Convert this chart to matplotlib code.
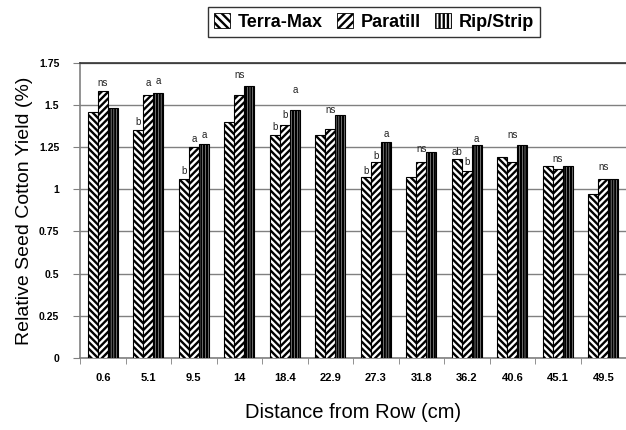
import matplotlib
matplotlib.use("Agg")
import matplotlib.pyplot as plt
import numpy as np
from matplotlib.patches import Patch

categories = ["0.6", "5.1", "9.5", "14", "18.4", "22.9", "27.3", "31.8", "36.2", "40.6", "45.1", "49.5"]
series_names = ["Terra-Max", "Paratill", "Rip/Strip"]
terra_max = [1.46, 1.35, 1.06, 1.40, 1.32, 1.32, 1.07, 1.07, 1.18, 1.19, 1.14, 0.97]
paratill = [1.58, 1.56, 1.25, 1.56, 1.38, 1.36, 1.16, 1.16, 1.11, 1.16, 1.12, 1.06]
rip_strip = [1.48, 1.57, 1.27, 1.61, 1.47, 1.44, 1.28, 1.22, 1.26, 1.26, 1.14, 1.06]

# significance letters: (group index, series index or None for group centre, text, y)
sig_groups = [0, 1, 1, 1, 2, 2, 2, 3, 4, 4, 4, 5, 6, 6, 6, 7, 8, 8, 8, 9, 10, 11]
sig_series = [1, 0, 1, 2, 0, 1, 2, None, 0, 1, 2, None, 0, 1, 2, None, 0, 1, 2, None, None, None]
sig_text = ["ns", "b", "a", "a", "b", "a", "a", "ns", "b", "b", "a", "ns", "b", "b", "a", "ns", "ab", "b", "a", "ns", "ns", "ns"]
sig_y = [1.63, 1.40, 1.63, 1.64, 1.11, 1.30, 1.32, 1.68, 1.37, 1.44, 1.59, 1.47, 1.11, 1.20, 1.33, 1.24, 1.22, 1.16, 1.30, 1.32, 1.18, 1.13]

plt.rcParams['font.family'] = ['Liberation Sans', 'DejaVu Sans']
plt.rcParams['hatch.linewidth'] = 1.7

fig = plt.figure(figsize=(6.26, 4.30), dpi=100)
ax = fig.add_axes([0.128, 0.1674, 0.872, 0.6868])

x = np.arange(len(categories))
w = 0.22
hatches = ['\\' * 5, '/' * 5, '|' * 6]
data = [terra_max, paratill, rip_strip]
for i, (vals, h) in enumerate(zip(data, hatches)):
    ax.bar(x + (i - 1) * w, vals, width=w, facecolor='white', edgecolor='black',
           hatch=h, linewidth=0.8, zorder=3)

for g, s, t, yv in zip(sig_groups, sig_series, sig_text, sig_y):
    xo = x[g] + ((s - 1) * w if s is not None else 0)
    ax.text(xo, yv, t, ha='center', va='center', fontsize=7, color='#222222', zorder=4)

ax.set_xlim(-0.5, len(categories) - 0.5)
ax.set_ylim(0, 1.75)
ax.set_yticks([0, 0.25, 0.5, 0.75, 1, 1.25, 1.5, 1.75])
ax.set_yticklabels(["0", "0.25", "0.5", "0.75", "1", "1.25", "1.5", "1.75"],
                   fontsize=7.5, fontweight='bold')
ax.yaxis.grid(True, color='#808080', linewidth=1.0, zorder=0)
ax.set_axisbelow(True)

ax.set_xticks(x)
ax.set_xticklabels(categories, fontsize=8, fontweight='bold')
ax.tick_params(axis='x', length=0, pad=11)
ax.set_xticks(np.arange(len(categories) + 1) - 0.5, minor=True)
ax.tick_params(axis='x', which='minor', length=4, color='#808080', direction='out')
ax.tick_params(axis='y', length=5, color='#808080', direction='out', pad=10)
for lab in ax.get_yticklabels():
    lab.set_horizontalalignment('right')

ax.spines['right'].set_visible(False)
ax.spines['top'].set_color('#333333')
ax.spines['left'].set_color('#808080')
ax.spines['bottom'].set_color('#808080')
ax.spines['left'].set_linewidth(1.2)
ax.spines['bottom'].set_linewidth(1.2)
ax.spines['top'].set_linewidth(1.2)

ax.set_ylabel("Relative Seed Cotton Yield (%)", fontsize=14, labelpad=4)
ax.set_xlabel("Distance from Row (cm)", fontsize=14.5, labelpad=14)

handles = [Patch(facecolor='white', edgecolor='black', hatch=h, linewidth=0.6) for h in ['\\' * 4, '/' * 4, '|' * 4]]
leg = fig.legend(handles, series_names, loc='center', bbox_to_anchor=(0.597, 0.949), ncol=3,
                 frameon=True, fancybox=False, edgecolor='black', handlelength=0.9, handleheight=0.9,
                 handletextpad=0.4, columnspacing=0.8, borderpad=0.35,
                 prop={'weight': 'bold', 'size': 13})
leg.get_frame().set_linewidth(1.0)

fig.savefig("out.png", dpi=100)
